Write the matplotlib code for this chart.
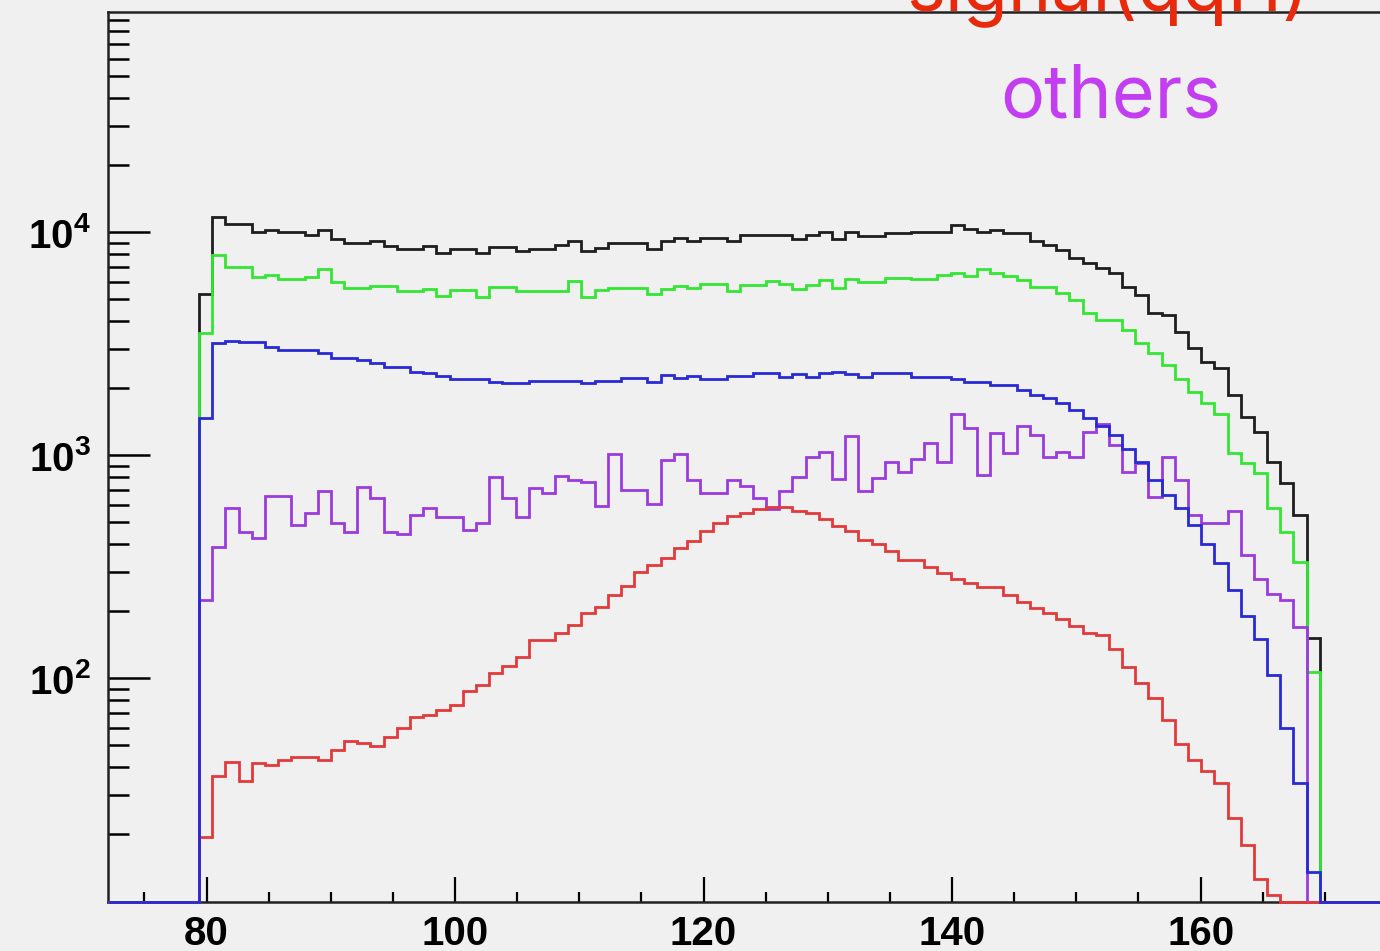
import numpy as np
import matplotlib.pyplot as plt
from matplotlib.ticker import FixedLocator, LogLocator, NullFormatter, FuncFormatter

plt.rcParams['mathtext.fontset'] = 'custom'
plt.rcParams['mathtext.rm'] = 'Liberation Sans:bold'
plt.rcParams['mathtext.bf'] = 'Liberation Sans:bold'

# 85 mass bins
edges = np.linspace(79.4, 169.6, 86)

# total (black)
h_total = [5300, 11700, 10900, 10900, 10050, 10260, 10050, 10050, 9740, 10260,
           9350, 8970, 8970, 9190, 8700, 8430, 8430, 8700, 8090, 8420,
           8420, 8060, 8640, 8640, 8260, 8430, 8430, 8730, 9160, 8260,
           8490, 8940, 8940, 8940, 8420, 9180, 9420, 9160, 9420, 9420,
           9100, 9680, 9680, 9740, 9740, 9320, 9680, 10080, 9350, 10080,
           9600, 9600, 9920, 9920, 10080, 10080, 10080, 10800, 10330, 10080,
           10260, 9920, 9920, 9160, 8730, 8350, 7660, 7280, 6910, 6600,
           5710, 5210, 4350, 4270, 3590, 3030, 2610, 2460, 1866, 1493,
           1266, 937, 750, 540, 152]

# green
h_green = [3530, 7925, 6980, 6980, 6300, 6440, 6160, 6160, 6300, 6840,
           6010, 5620, 5620, 5750, 5750, 5430, 5430, 5570, 5170, 5520,
           5520, 5150, 5710, 5710, 5430, 5430, 5430, 5430, 6070, 5150,
           5520, 5620, 5620, 5620, 5290, 5560, 5750, 5620, 5870, 5870,
           5430, 5810, 5810, 6070, 5870, 5560, 5810, 6120, 5620, 6190,
           6010, 6010, 6240, 6240, 6160, 6160, 6440, 6560, 6340, 6840,
           6560, 6340, 6120, 5710, 5710, 5330, 4980, 4370, 4050, 4050,
           3660, 3190, 2870, 2544, 2198, 1933, 1714, 1530, 1023, 922,
           832, 579, 455, 334, 107]

# blue
h_blue = [1469, 3186, 3273, 3221, 3221, 3076, 2972, 2972, 2972, 2872,
          2728, 2728, 2680, 2590, 2502, 2502, 2376, 2338, 2260, 2198,
          2198, 2198, 2143, 2109, 2109, 2158, 2158, 2158, 2158, 2109,
          2158, 2158, 2218, 2218, 2129, 2296, 2218, 2274, 2198, 2198,
          2274, 2274, 2338, 2338, 2256, 2317, 2256, 2338, 2376, 2317,
          2256, 2338, 2338, 2338, 2256, 2256, 2256, 2198, 2143, 2143,
          2070, 2070, 1960, 1860, 1800, 1725, 1600, 1475, 1360, 1240,
          1065, 937, 775, 665, 579, 488, 400, 330, 250, 190,
          150, 104, 60, 34, 13.6]

# others (purple)
h_others = [225, 390, 580, 455, 425, 656, 656, 488, 550, 689,
            497, 455, 724, 643, 455, 444, 541, 580, 528, 528,
            463, 497, 803, 643, 528, 713, 677, 811, 776, 763,
            594, 1016, 700, 700, 606, 955, 1016, 776, 677, 677,
            776, 725, 643, 574, 689, 798, 984, 1039, 782, 1222,
            689, 790, 937, 843, 962, 1138, 937, 1535, 1324, 818,
            1259, 1023, 1356, 1237, 985, 1039, 985, 1271, 1385, 1114,
            846, 922, 653, 981, 776, 541, 497, 497, 565, 358,
            279, 239, 225, 170, 0]

# signal qqH (red)
h_signal = [19.5, 36.6, 42.1, 34.7, 41.7, 40.7, 43.1, 44.3, 44.3, 43.1,
            47.8, 52.6, 51.2, 49.5, 54.5, 59.8, 67, 68.6, 72.2, 76,
            88, 93.5, 106, 114, 125, 148, 148, 160, 174, 196,
            208, 237, 260, 301, 323, 346, 383, 415, 460, 497,
            535, 554, 574, 589, 587, 565, 550, 518, 480, 458,
            418, 401, 371, 338, 338, 317, 296, 279, 269, 258,
            258, 237, 221, 207, 196, 185, 171, 160, 156, 135,
            112, 95, 82, 65, 51, 43, 38.5, 34, 23.7, 17.9,
            12.6, 10.7, 0, 0, 0]

xlo, xhi = 72.03, 174.44
ylo, yhi = 9.9, 9.7e4
bg = '#f0f0f0'

fig = plt.figure(figsize=(13.8, 9.51), dpi=100, facecolor=bg)
ax = fig.add_axes([107.5 / 1380, 48.7 / 951, 1272.5 / 1380, 890 / 951])
ax.set_facecolor(bg)

full_edges = np.concatenate([[xlo], edges, [xhi]])
series = [(h_total, '#1e1e1e'), (h_green, '#33e633'), (h_others, '#9a3be0'),
          (h_signal, '#e23a3a'), (h_blue, '#2a2ad4')]
for vals, col in series:
    v = np.concatenate([[0], vals, [0]])
    v = np.where(v > 0, v, ylo)   # empty bins sit on the floor, like ROOT
    ax.stairs(v, full_edges, baseline=None, color=col, lw=2.0, zorder=3, clip_on=False)

ax.set_yscale('log')
ax.set_xlim(xlo, xhi)
ax.set_ylim(ylo, yhi)

ax.yaxis.set_major_locator(FixedLocator([1e2, 1e3, 1e4]))
ax.yaxis.set_minor_locator(LogLocator(base=10, subs=np.arange(2, 10)))
ax.yaxis.set_minor_formatter(NullFormatter())
ax.yaxis.set_major_formatter(FuncFormatter(lambda y, p: r'$\mathbf{10^{%d}}$' % round(np.log10(y))))

ax.xaxis.set_major_locator(FixedLocator([80, 100, 120, 140, 160]))
ax.xaxis.set_minor_locator(FixedLocator(np.arange(75, 175, 5)))

ax.tick_params(axis='y', which='major', direction='in', length=30, width=1.8, pad=12, labelsize=29)
ax.tick_params(axis='y', which='minor', direction='in', length=15, width=1.8)
ax.tick_params(axis='x', which='major', direction='in', length=18, width=1.6, pad=9, labelsize=29)
ax.tick_params(axis='x', which='minor', direction='in', length=7, width=1.6)
for lab in ax.get_xticklabels():
    lab.set_fontfamily('Liberation Sans')
    lab.set_fontweight('bold')

ax.spines['right'].set_visible(False)
for s in ['left', 'top', 'bottom']:
    ax.spines[s].set_linewidth(1.8)
    ax.spines[s].set_color('#222222')

fig.text(1108 / 1380, 1 - 11 / 951, 'signal(qqH)', color='#e8290b', fontsize=53,
         family='Inter', ha='center', va='baseline', zorder=10)
fig.text(1111 / 1380, 1 - 117 / 951, 'others', color='#c23ef0', fontsize=53,
         family='Inter', ha='center', va='baseline', zorder=10)

fig.savefig('out.png', dpi=100, facecolor=bg)
